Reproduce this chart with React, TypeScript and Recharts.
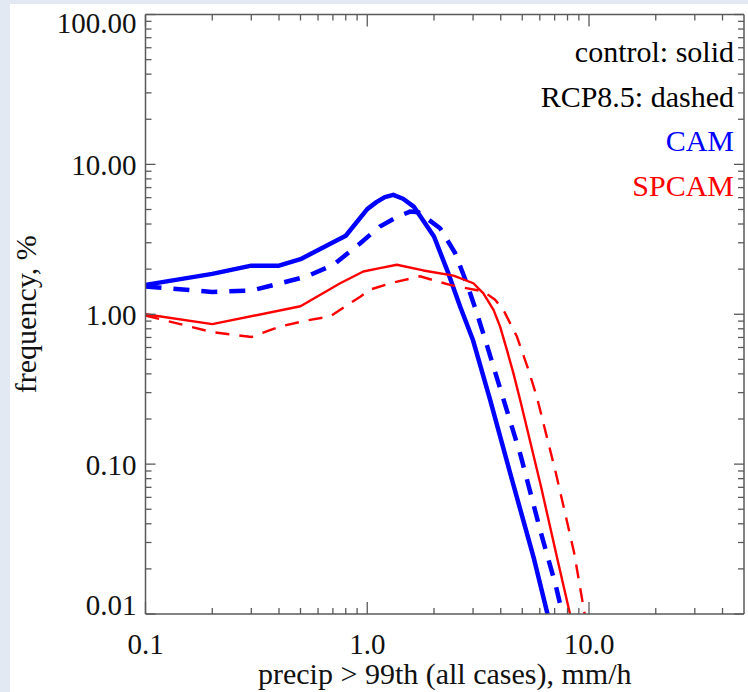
import React from 'react';
import { LineChart, Line, XAxis, YAxis, Legend } from 'recharts';

// ---- data (precip rate mm/h, frequency %) ----
const camControlX = [0.1, 0.2, 0.3, 0.4, 0.5, 0.8, 1.0, 1.1, 1.2, 1.31, 1.45, 1.62, 2.0, 2.32, 2.62, 3.0, 3.58, 4.44, 5.65, 6.5];
const camControlY = [1.57, 1.86, 2.11, 2.11, 2.33, 3.34, 5.03, 5.6, 6.05, 6.26, 5.9, 5.23, 3.3, 1.88, 1.13, 0.67, 0.269, 0.084, 0.0233, 0.01];

const camRcpX = [0.1, 0.2, 0.3, 0.4, 0.535, 0.705, 0.93, 1.14, 1.36, 1.56, 1.7, 2.13, 2.49, 2.81, 3.12, 3.44, 4.92, 6.06, 7.08, 7.59];
const camRcpY = [1.53, 1.41, 1.44, 1.6, 1.79, 2.14, 2.98, 3.85, 4.45, 4.84, 4.8, 3.75, 2.56, 1.61, 1.02, 0.643, 0.114, 0.0351, 0.0155, 0.01];

const spcamControlX = [0.1, 0.2, 0.5, 0.755, 0.96, 1.14, 1.36, 1.79, 2.45, 3.01, 3.34, 3.71, 3.97, 4.26, 4.56, 4.89, 6.06, 7.2, 8.21];
const spcamControlY = [1.0, 0.86, 1.13, 1.61, 1.93, 2.03, 2.14, 1.96, 1.81, 1.61, 1.38, 1.07, 0.83, 0.58, 0.405, 0.269, 0.072, 0.0233, 0.01];

const spcamRcpX = [0.1, 0.2, 0.3, 0.406, 0.535, 0.68, 0.93, 1.03, 1.27, 1.73, 2.36, 3.34, 3.77, 4.11, 4.73, 5.33, 5.81, 7.08, 8.56, 9.56];
const spcamRcpY = [0.98, 0.76, 0.705, 0.83, 0.91, 0.966, 1.31, 1.46, 1.61, 1.79, 1.57, 1.42, 1.25, 1.07, 0.71, 0.426, 0.283, 0.088, 0.0258, 0.01];

// ---- ticks ----
const xMajorTicks = [0.1, 1, 10];
const xMinorTicks = [0.2, 0.3, 0.4, 0.5, 0.6, 0.7, 0.8, 0.9, 2, 3, 4, 5, 6, 7, 8, 9, 20, 30, 40];
const yMajorTicks = [0.01, 0.1, 1, 10, 100];
const yMinorTicks = [
  0.02, 0.03, 0.04, 0.05, 0.06, 0.07, 0.08, 0.09,
  0.2, 0.3, 0.4, 0.5, 0.6, 0.7, 0.8, 0.9,
  2, 3, 4, 5, 6, 7, 8, 9,
  20, 30, 40, 50, 60, 70, 80, 90,
];
const xTickLabels = ['0.1', '1.0', '10.0'];
const yTickLabels = ['0.01', '0.10', '1.00', '10.00', '100.00'];

const xDomain = [0.1, 50];
const yDomain = [0.01, 100];

const legendLines = [
  { text: 'control: solid', color: '#000000' },
  { text: 'RCP8.5: dashed', color: '#000000' },
  { text: 'CAM', color: '#0000ff' },
  { text: 'SPCAM', color: '#ff0000' },
];

const toPoints = (xs: number[], ys: number[]) => xs.map((x, i) => ({ x, y: ys[i] }));

const camControl = toPoints(camControlX, camControlY);
const camRcp = toPoints(camRcpX, camRcpY);
const spcamControl = toPoints(spcamControlX, spcamControlY);
const spcamRcp = toPoints(spcamRcpX, spcamRcpY);

const allXTicks = [...xMajorTicks, ...xMinorTicks].sort((a, b) => a - b);
const allYTicks = [...yMajorTicks, ...yMinorTicks].sort((a, b) => a - b);

const FONT = "'Liberation Serif', 'Times New Roman', Times, serif";
const AXIS = '#5a5a5a';
const MAJOR = 12;
const MINOR = 6;

const BottomTick = (props: any) => {
  const { x, y, payload } = props;
  const idx = xMajorTicks.indexOf(payload.value);
  const major = idx >= 0;
  return (
    <g>
      <line x1={x} x2={x} y1={y} y2={y - (major ? MAJOR : MINOR)} stroke={AXIS} strokeWidth={1.3} />
      {major && (
        <text x={x} y={y + 40} textAnchor="middle" fontFamily={FONT} fontSize={29} fill="#111">
          {xTickLabels[idx]}
        </text>
      )}
    </g>
  );
};

const TopTick = (props: any) => {
  const { x, y, payload } = props;
  const major = xMajorTicks.indexOf(payload.value) >= 0;
  return <line x1={x} x2={x} y1={y} y2={y + (major ? MAJOR : MINOR)} stroke={AXIS} strokeWidth={1.3} />;
};

const LeftTick = (props: any) => {
  const { x, y, payload } = props;
  const idx = yMajorTicks.indexOf(payload.value);
  const major = idx >= 0;
  let dy = 10.5;
  if (idx === yMajorTicks.length - 1) dy = 18.5;
  if (idx === 0) dy = 0.5;
  return (
    <g>
      <line x1={x} x2={x + (major ? MAJOR - 2 : MINOR)} y1={y} y2={y} stroke={AXIS} strokeWidth={1.3} />
      {major && (
        <text x={x - 9} y={y + dy} textAnchor="end" fontFamily={FONT} fontSize={29} fill="#111">
          {yTickLabels[idx]}
        </text>
      )}
    </g>
  );
};

const RightTick = (props: any) => {
  const { x, y, payload } = props;
  const major = yMajorTicks.indexOf(payload.value) >= 0;
  return <line x1={x} x2={x - (major ? MAJOR - 2 : MINOR)} y1={y} y2={y} stroke={AXIS} strokeWidth={1.3} />;
};

const XTitle = (props: any) => {
  const vb = props.viewBox || {};
  return (
    <text x={vb.x + vb.width / 2} y={vb.y + 70} textAnchor="middle" fontFamily={FONT} fontSize={30} fill="#111">
      precip &gt; 99th (all cases), mm/h
    </text>
  );
};

const YTitle = (props: any) => {
  const vb = props.viewBox || {};
  const cx = vb.x + vb.width - 120;
  const cy = vb.y + vb.height / 2;
  return (
    <text
      x={cx}
      y={cy}
      transform={`rotate(-90, ${cx}, ${cy})`}
      textAnchor="middle"
      dominantBaseline="central"
      fontFamily={FONT}
      fontSize={30}
      fill="#111"
    >
      frequency, %
    </text>
  );
};

const LegendContent = () => (
  <div style={{ textAlign: 'right', fontFamily: FONT, fontSize: 30, lineHeight: '44.5px', whiteSpace: 'nowrap' }}>
    {legendLines.map((l) => (
      <div key={l.text} style={{ color: l.color }}>
        {l.text}
      </div>
    ))}
  </div>
);

export default function App() {
  return (
    <div style={{ position: 'absolute', left: 0, top: 0, width: 748, height: 692, background: '#e2e9f2', overflow: 'hidden' }}>
      <div style={{ position: 'absolute', left: 10, top: 4, width: 738, height: 688, background: '#ffffff' }} />
      <div style={{ position: 'absolute', left: 0, top: 0 }}>
        <LineChart width={748} height={692} margin={{ top: 13.5, right: 3, bottom: 77, left: 144.5 }}>
          <XAxis
            xAxisId="bottom"
            dataKey="x"
            type="number"
            scale="log"
            domain={xDomain}
            allowDataOverflow
            ticks={allXTicks}
            interval={0}
            tick={<BottomTick />}
            tickLine={false}
            tickSize={0}
            tickMargin={0}
            height={1}
            axisLine={{ stroke: AXIS, strokeWidth: 1.5 }}
            label={<XTitle />}
          />
          <XAxis
            xAxisId="top"
            orientation="top"
            dataKey="x"
            type="number"
            scale="log"
            domain={xDomain}
            allowDataOverflow
            ticks={allXTicks}
            interval={0}
            tick={<TopTick />}
            tickLine={false}
            tickSize={0}
            tickMargin={0}
            height={1}
            axisLine={{ stroke: AXIS, strokeWidth: 1.5 }}
          />
          <YAxis
            yAxisId="left"
            dataKey="y"
            type="number"
            scale="log"
            domain={yDomain}
            allowDataOverflow
            ticks={allYTicks}
            interval={0}
            tick={<LeftTick />}
            tickLine={false}
            tickSize={0}
            tickMargin={0}
            width={1}
            axisLine={{ stroke: AXIS, strokeWidth: 1.5 }}
            label={<YTitle />}
          />
          <YAxis
            yAxisId="right"
            orientation="right"
            dataKey="y"
            type="number"
            scale="log"
            domain={yDomain}
            allowDataOverflow
            ticks={allYTicks}
            interval={0}
            tick={<RightTick />}
            tickLine={false}
            tickSize={0}
            tickMargin={0}
            width={1}
            axisLine={{ stroke: AXIS, strokeWidth: 1.5 }}
          />
          <Legend
            layout="vertical"
            align="center"
            verticalAlign="middle"
            wrapperStyle={{ top: 30, right: 14 }}
            content={<LegendContent />}
          />
          <Line xAxisId="bottom" yAxisId="left" data={camControl} dataKey="y" name="CAM control" type="linear" stroke="#0000ff" strokeWidth={4.5} strokeLinejoin="round" dot={false} isAnimationActive={false} />
          <Line xAxisId="bottom" yAxisId="left" data={camRcp} dataKey="y" name="CAM RCP8.5" type="linear" stroke="#0000ff" strokeWidth={4.5} strokeDasharray="16 12" dot={false} isAnimationActive={false} />
          <Line xAxisId="bottom" yAxisId="left" data={spcamControl} dataKey="y" name="SPCAM control" type="linear" stroke="#ff0000" strokeWidth={2.4} strokeLinejoin="round" dot={false} isAnimationActive={false} />
          <Line xAxisId="bottom" yAxisId="left" data={spcamRcp} dataKey="y" name="SPCAM RCP8.5" type="linear" stroke="#ff0000" strokeWidth={2.4} strokeDasharray="14 10" dot={false} isAnimationActive={false} />
        </LineChart>
      </div>
    </div>
  );
}
